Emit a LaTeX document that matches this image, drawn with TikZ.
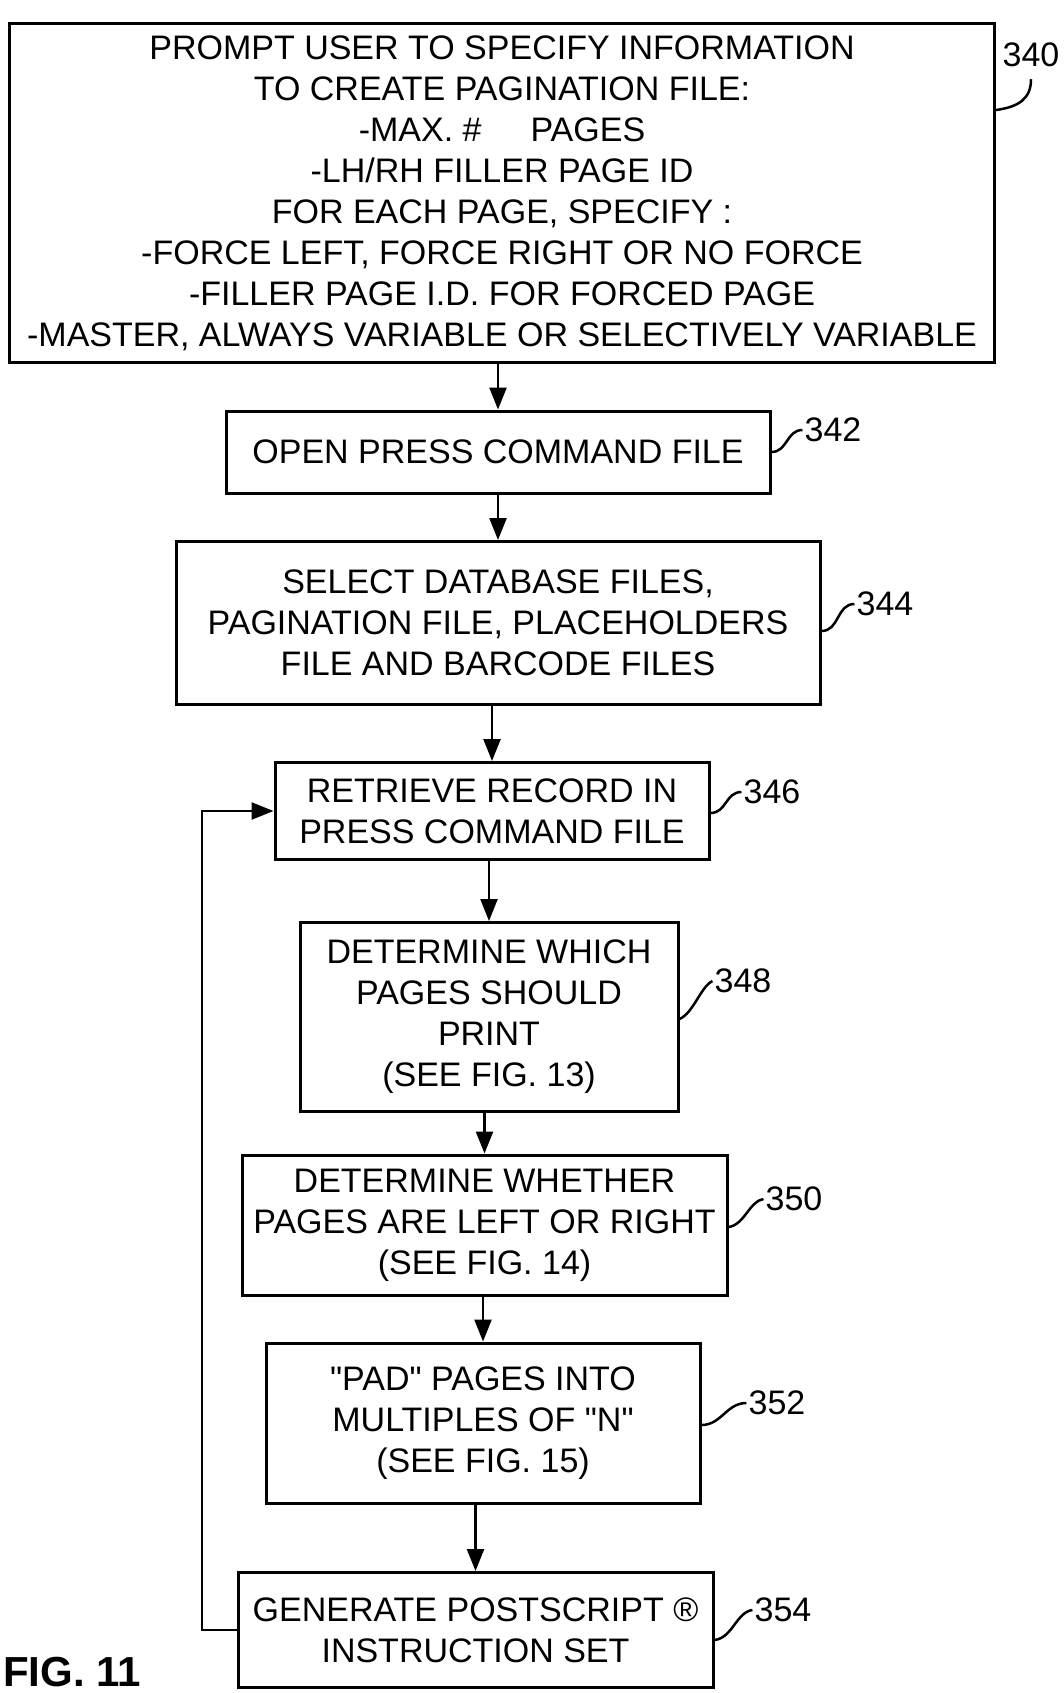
\documentclass[tikz,border=0pt]{standalone}
\usepackage{fontspec}
\newfontfamily\lsans{Liberation Sans}
\usetikzlibrary{arrows.meta}
\begin{document}
\begin{tikzpicture}[x=1pt,y=-1pt,
  box/.style={draw, line width=3pt, inner sep=0pt, align=center,
    font=\lsans\fontsize{34}{41}\selectfont},
  lbl/.style={inner sep=0pt, font=\lsans\fontsize{34}{41}\selectfont},
  arr/.style={line width=2.5pt, -{Triangle[length=22pt,width=17pt]}},
  lead/.style={line width=2.5pt}]
\useasboundingbox (0,0) rectangle (1063,1693);

% boxes
\node[box, minimum width=985pt, minimum height=338pt] (b340) at (502,193)
 {PROMPT USER TO SPECIFY INFORMATION\\
  TO CREATE PAGINATION FILE:\\
  -MAX. \#\hspace{49pt}PAGES\\
  -LH/RH FILLER PAGE ID\\
  FOR EACH PAGE, SPECIFY :\\
  -FORCE LEFT, FORCE RIGHT OR NO FORCE\\
  -FILLER PAGE I.D. FOR FORCED PAGE\\
  -MASTER, ALWAYS VARIABLE OR SELECTIVELY VARIABLE};
\node[box, minimum width=544pt, minimum height=82pt] (b342) at (498,452)
 {OPEN PRESS COMMAND FILE};
\node[box, minimum width=644pt, minimum height=163pt] (b344) at (498,623)
 {SELECT DATABASE FILES,\\PAGINATION FILE, PLACEHOLDERS\\FILE AND BARCODE FILES};
\node[box, minimum width=434pt, minimum height=97pt] (b346) at (492,811)
 {RETRIEVE RECORD IN\\PRESS COMMAND FILE};
\node[box, minimum width=378pt, minimum height=189pt] (b348) at (489,1017)
 {DETERMINE WHICH\\PAGES SHOULD\\PRINT\\(SEE FIG. 13)};
\node[box, minimum width=485pt, minimum height=140pt] (b350) at (484.5,1225)
 {DETERMINE WHETHER\\PAGES ARE LEFT OR RIGHT\\(SEE FIG. 14)};
\node[box, minimum width=434pt, minimum height=160pt] (b352) at (483,1423)
 {"PAD" PAGES INTO\\MULTIPLES OF "N"\\(SEE FIG. 15)};
\node[box, minimum width=475pt, minimum height=115pt] (b354) at (475.5,1630)
 {GENERATE POSTSCRIPT \textregistered\\INSTRUCTION SET};

% connectors
\draw[arr] (b342.north |- b340.south) -- (b342.north);
\draw[arr] (b344.north |- b342.south) -- (b344.north);
\draw[arr] (b346.north |- b344.south) -- (b346.north);
\draw[arr] (b348.north |- b346.south) -- (b348.north);
\draw[arr] (b350.north |- b348.south) -- (b350.north);
\draw[arr] (b352.north |- b350.south) -- (b352.north);
\draw[arr] (b354.north |- b352.south) -- (b354.north);

% feedback loop
\coordinate (loopx) at (202,0);
\draw[arr] (b354.west) -- (b354.west -| loopx) -- (loopx |- b346.west) -- (b346.west);

% reference labels
\node[lbl] (l340) at (1031,55) {340};
\node[lbl] (l342) at (833,430) {342};
\node[lbl] (l344) at (885,604) {344};
\node[lbl] (l346) at (772,792) {346};
\node[lbl] (l348) at (743,981) {348};
\node[lbl] (l350) at (794,1199) {350};
\node[lbl] (l352) at (777,1403) {352};
\node[lbl] (l354) at (783,1610) {354};

\draw[lead] ([yshift=83pt]b340.east) .. controls +(22,-3) and +(0,20) .. ([yshift=-12pt]l340.south);
\draw[lead] (b342.east) .. controls +(16,0) and +(-16,0) .. ([xshift=-2pt]l342.west);
\draw[lead] ([yshift=-8pt]b344.east) .. controls +(18,0) and +(-18,0) .. ([xshift=-2pt]l344.west);
\draw[lead] ([yshift=-2pt]b346.east) .. controls +(16,0) and +(-16,0) .. ([xshift=-2pt]l346.west);
\draw[lead] ([yshift=-2pt]b348.east) .. controls +(14,-6) and +(-12,6) .. ([xshift=-2pt]l348.west);
\draw[lead] ([yshift=-2pt]b350.east) .. controls +(16,-2) and +(-14,2) .. ([xshift=-2pt]l350.west);
\draw[lead] ([yshift=-2pt]b352.east) .. controls +(20,0) and +(-20,0) .. ([xshift=-2pt]l352.west);
\draw[lead] ([yshift=-10pt]b354.east) .. controls +(18,-2) and +(-16,2) .. ([xshift=-2pt]l354.west);

% figure caption
\node[anchor=base west, inner sep=0pt, font=\lsans\bfseries\fontsize{42}{46}\selectfont] (fig) at (3,1686) {FIG. 11};
\end{tikzpicture}
\end{document}
